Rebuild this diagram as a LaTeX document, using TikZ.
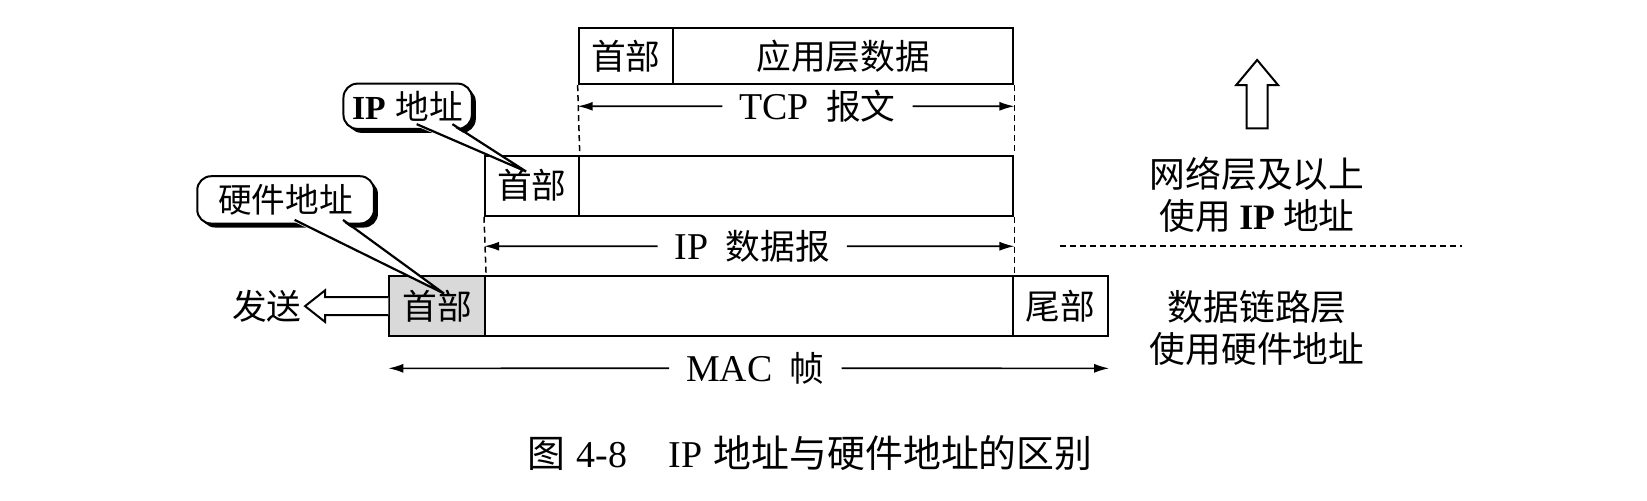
\documentclass[tikz,border=0pt]{standalone}
\usepackage{fontspec}
\setmainfont{Liberation Serif}
\newfontfamily\cjk{Noto Sans CJK SC}
\usetikzlibrary{arrows.meta,shadows}
\begin{document}
\begin{tikzpicture}[x=1pt,y=-1pt,scale=1.052,
  every node/.append style={transform shape, font=\fontsize{33}{36}\selectfont\cjk},
  cell/.style={draw, line width=2pt, inner sep=0pt},
  dim/.style={-{Latex[length=15pt,width=9pt]}, line width=1.6pt},
  guide/.style={line width=1.5pt, dash pattern=on 6pt off 4pt},
  dimlbl/.style={inner xsep=16pt, inner ysep=0pt},
  callout/.style={draw, line width=2pt, fill=white, rounded corners=14pt, inner sep=0pt,
     font=\fontsize{32}{34}\selectfont\cjk,
     drop shadow={shadow xshift=4pt, shadow yshift=-4pt, fill=black, opacity=1}},
  pointer/.style={line width=2.2pt, line join=miter},
  hollow/.style={draw, line width=2pt, fill=white, line join=miter},
  side/.style={align=center, font=\fontsize{34}{40}\selectfont\cjk}
]
\useasboundingbox (0,0) rectangle (1565.6,476.2);

% TCP segment
\node[cell, minimum width=90pt, minimum height=53pt] (tcph) at (595,53.5) {首部};
\node[cell, minimum width=323pt, minimum height=53pt] (tcpd) at (801.5,53.5) {应用层数据};
% IP datagram
\node[cell, minimum width=89pt, minimum height=57pt] (iph) at (505.5,176.5) {首部};
\node[cell, minimum width=413pt, minimum height=57pt] (ipd) at (756.5,176.5) {};
% MAC frame
\node[cell, minimum width=91pt, minimum height=57pt, fill=gray!30] (mach) at (415.5,291) {首部};
\node[cell, minimum width=502pt, minimum height=57pt] (macd) at (712,291) {};
\node[cell, minimum width=90pt, minimum height=57pt] (mact) at (1008,291) {尾部};

% guides
\draw[guide] (tcph.south west) -- (iph.north east);
\draw[guide] (tcpd.south east) -- (ipd.north east);
\draw[guide] (iph.south west) -- (mach.north east);
\draw[guide] (ipd.south east) -- (macd.north east);

% dimension arrows
\node[dimlbl] (ltcp) at (777,101) {{\rmfamily\fontsize{36}{38}\selectfont TCP}\hspace{0.5em}报文};
\coordinate (tcpL) at (tcph.west |- ltcp);
\coordinate (tcpR) at (tcpd.east |- ltcp);
\draw[dim] (ltcp.west) -- (tcpL);
\draw[dim] (ltcp.east) -- (tcpR);

\node[dimlbl] (lip) at (715,234) {{\rmfamily\fontsize{36}{38}\selectfont IP}\hspace{0.5em}数据报};
\coordinate (ipL) at (iph.west |- lip);
\coordinate (ipR) at (ipd.east |- lip);
\draw[dim] (lip.west) -- (ipL);
\draw[dim] (lip.east) -- (ipR);

\node[dimlbl] (lmac) at (718,350) {{\rmfamily\fontsize{36}{38}\selectfont MAC}\hspace{0.5em}帧};
\coordinate (macL) at (mach.west |- lmac);
\coordinate (macR) at (mact.east |- lmac);
\draw[dim] (lmac.west) -- (macL);
\draw[dim] (lmac.east) -- (macR);

% callouts
\node[callout, minimum width=122pt, minimum height=43pt] (cip) at (387.5,101) {{\rmfamily\bfseries IP}\hspace{0.3em}地址};
\coordinate (tipip) at (500,163);
\coordinate (bip1) at (396,120);
\coordinate (bip2) at (430,120);
\fill[white] (bip1) -- (tipip) -- (bip2) -- cycle;
\draw[pointer] ([yshift=2pt]bip1) -- (tipip) -- ([yshift=2pt]bip2);

\node[callout, minimum width=168pt, minimum height=45pt] (chw) at (271.5,190) {硬件地址};
\coordinate (tiphw) at (422,279);
\coordinate (bhw1) at (280,211);
\coordinate (bhw2) at (326,211);
\fill[white] (bhw1) -- (tiphw) -- (bhw2) -- cycle;
\draw[pointer] ([yshift=2pt]bhw1) -- (tiphw) -- ([yshift=2pt]bhw2);

% send arrow
\node[anchor=east, inner sep=0pt] (send) at (287,291) {发送};
\draw[hollow] (mach.west |- 0,282.5) -- (309,282.5) -- (309,276) -- (290,291) -- (309,306) -- (309,299.5) -- (mach.west |- 0,299.5);

% up arrow
\draw[hollow] (1185,122) -- (1185,81) -- (1175,81) -- (1195,57) -- (1215,81) -- (1205,81) -- (1205,122) -- cycle;

% right side labels
\node[side] (net) at (1195,185) {网络层及以上\\使用 {\rmfamily\bfseries IP} 地址};
\draw[guide] (1008,234) -- (1390,234);
\node[side] (dl) at (1195,312) {数据链路层\\使用硬件地址};

% caption
\node[font=\fontsize{36}{38}\selectfont\cjk] (cap) at (770,431) {图\hspace{0.3em}{\rmfamily 4-8}\hspace{1.1em}{\rmfamily IP}\hspace{0.3em}地址与硬件地址的区别};
\end{tikzpicture}
\end{document}
